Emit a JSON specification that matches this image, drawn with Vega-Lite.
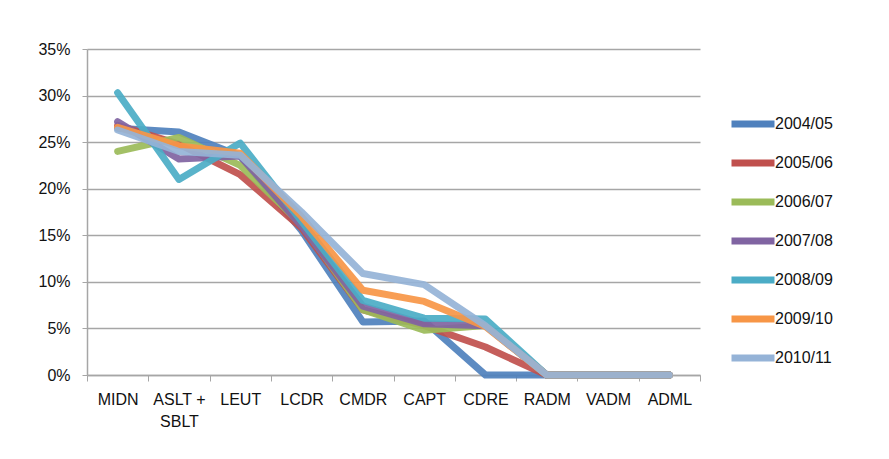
{
  "$schema": "https://vega.github.io/schema/vega-lite/v6.json",
  "width": 613,
  "height": 326,
  "autosize": "none",
  "padding": {"left": 87, "top": 49, "right": 189, "bottom": 84},
  "background": "white",
  "data": {
    "values": [
      {"rank": "MIDN", "year": "2004/05", "share": 0.265},
      {"rank": "ASLT + SBLT", "year": "2004/05", "share": 0.261},
      {"rank": "LEUT", "year": "2004/05", "share": 0.235},
      {"rank": "LCDR", "year": "2004/05", "share": 0.155},
      {"rank": "CMDR", "year": "2004/05", "share": 0.057},
      {"rank": "CAPT", "year": "2004/05", "share": 0.058},
      {"rank": "CDRE", "year": "2004/05", "share": 0.0},
      {"rank": "RADM", "year": "2004/05", "share": 0.0},
      {"rank": "VADM", "year": "2004/05", "share": 0.0},
      {"rank": "ADML", "year": "2004/05", "share": 0.0},

      {"rank": "MIDN", "year": "2005/06", "share": 0.268},
      {"rank": "ASLT + SBLT", "year": "2005/06", "share": 0.248},
      {"rank": "LEUT", "year": "2005/06", "share": 0.215},
      {"rank": "LCDR", "year": "2005/06", "share": 0.158},
      {"rank": "CMDR", "year": "2005/06", "share": 0.070},
      {"rank": "CAPT", "year": "2005/06", "share": 0.053},
      {"rank": "CDRE", "year": "2005/06", "share": 0.030},
      {"rank": "RADM", "year": "2005/06", "share": 0.0},
      {"rank": "VADM", "year": "2005/06", "share": 0.0},
      {"rank": "ADML", "year": "2005/06", "share": 0.0},

      {"rank": "MIDN", "year": "2006/07", "share": 0.240},
      {"rank": "ASLT + SBLT", "year": "2006/07", "share": 0.255},
      {"rank": "LEUT", "year": "2006/07", "share": 0.225},
      {"rank": "LCDR", "year": "2006/07", "share": 0.162},
      {"rank": "CMDR", "year": "2006/07", "share": 0.070},
      {"rank": "CAPT", "year": "2006/07", "share": 0.048},
      {"rank": "CDRE", "year": "2006/07", "share": 0.053},
      {"rank": "RADM", "year": "2006/07", "share": 0.0},
      {"rank": "VADM", "year": "2006/07", "share": 0.0},
      {"rank": "ADML", "year": "2006/07", "share": 0.0},

      {"rank": "MIDN", "year": "2007/08", "share": 0.272},
      {"rank": "ASLT + SBLT", "year": "2007/08", "share": 0.232},
      {"rank": "LEUT", "year": "2007/08", "share": 0.235},
      {"rank": "LCDR", "year": "2007/08", "share": 0.160},
      {"rank": "CMDR", "year": "2007/08", "share": 0.074},
      {"rank": "CAPT", "year": "2007/08", "share": 0.055},
      {"rank": "CDRE", "year": "2007/08", "share": 0.053},
      {"rank": "RADM", "year": "2007/08", "share": 0.0},
      {"rank": "VADM", "year": "2007/08", "share": 0.0},
      {"rank": "ADML", "year": "2007/08", "share": 0.0},

      {"rank": "MIDN", "year": "2008/09", "share": 0.303},
      {"rank": "ASLT + SBLT", "year": "2008/09", "share": 0.210},
      {"rank": "LEUT", "year": "2008/09", "share": 0.249},
      {"rank": "LCDR", "year": "2008/09", "share": 0.165},
      {"rank": "CMDR", "year": "2008/09", "share": 0.080},
      {"rank": "CAPT", "year": "2008/09", "share": 0.061},
      {"rank": "CDRE", "year": "2008/09", "share": 0.060},
      {"rank": "RADM", "year": "2008/09", "share": 0.0},
      {"rank": "VADM", "year": "2008/09", "share": 0.0},
      {"rank": "ADML", "year": "2008/09", "share": 0.0},

      {"rank": "MIDN", "year": "2009/10", "share": 0.266},
      {"rank": "ASLT + SBLT", "year": "2009/10", "share": 0.246},
      {"rank": "LEUT", "year": "2009/10", "share": 0.238},
      {"rank": "LCDR", "year": "2009/10", "share": 0.170},
      {"rank": "CMDR", "year": "2009/10", "share": 0.091},
      {"rank": "CAPT", "year": "2009/10", "share": 0.079},
      {"rank": "CDRE", "year": "2009/10", "share": 0.052},
      {"rank": "RADM", "year": "2009/10", "share": 0.0},
      {"rank": "VADM", "year": "2009/10", "share": 0.0},
      {"rank": "ADML", "year": "2009/10", "share": 0.0},

      {"rank": "MIDN", "year": "2010/11", "share": 0.263},
      {"rank": "ASLT + SBLT", "year": "2010/11", "share": 0.240},
      {"rank": "LEUT", "year": "2010/11", "share": 0.236},
      {"rank": "LCDR", "year": "2010/11", "share": 0.175},
      {"rank": "CMDR", "year": "2010/11", "share": 0.109},
      {"rank": "CAPT", "year": "2010/11", "share": 0.097},
      {"rank": "CDRE", "year": "2010/11", "share": 0.053},
      {"rank": "RADM", "year": "2010/11", "share": 0.0},
      {"rank": "VADM", "year": "2010/11", "share": 0.0},
      {"rank": "ADML", "year": "2010/11", "share": 0.0}
    ]
  },
  "mark": {"type": "line", "strokeWidth": 7, "strokeJoin": "round", "strokeCap": "round", "opacity": 0.92},
  "encoding": {
    "x": {
      "field": "rank",
      "type": "nominal",
      "sort": ["MIDN", "ASLT + SBLT", "LEUT", "LCDR", "CMDR", "CAPT", "CDRE", "RADM", "VADM", "ADML"],
      "bandPosition": 0.5,
      "scale": {"type": "band", "paddingInner": 0, "paddingOuter": 0},
      "axis": {
        "title": null,
        "labelAngle": 0,
        "tickBand": "extent",
        "tickSize": 6,
        "tickColor": "#A6A6A6",
        "domainColor": "#A6A6A6",
        "domainWidth": 1.5,
        "labelPadding": 10,
        "labelExpr": "datum.label == 'ASLT + SBLT' ? ['ASLT +', 'SBLT'] : datum.label",
        "labelLineHeight": 22
      }
    },
    "y": {
      "field": "share",
      "type": "quantitative",
      "scale": {"domain": [0, 0.35], "nice": false},
      "axis": {
        "title": null,
        "format": ".0%",
        "values": [0, 0.05, 0.1, 0.15, 0.2, 0.25, 0.3, 0.35],
        "tickSize": 5,
        "tickColor": "#A6A6A6",
        "domainColor": "#A6A6A6",
        "domainWidth": 1.5,
        "gridColor": "#A6A6A6",
        "gridWidth": 1.5,
        "labelPadding": 12
      }
    },
    "color": {
      "field": "year",
      "type": "nominal",
      "scale": {
        "domain": ["2004/05", "2005/06", "2006/07", "2007/08", "2008/09", "2009/10", "2010/11"],
        "range": ["#4F81BD", "#C0504D", "#9BBB59", "#8064A2", "#4BACC6", "#F79646", "#95B3D7"]
      },
      "legend": {
        "title": null,
        "orient": "none",
        "legendX": 641,
        "legendY": 50,
        "symbolType": "stroke",
        "symbolStrokeWidth": 7,
        "symbolSize": 1849,
        "rowPadding": 0,
        "labelOffset": -3,
        "symbolOpacity": 1
      }
    }
  },
  "config": {
    "font": "Liberation Sans",
    "view": {"stroke": null},
    "axis": {
      "labelFont": "Liberation Sans",
      "labelFontSize": 16,
      "labelColor": "#111111",
      "labelFontWeight": "normal"
    },
    "legend": {
      "labelFont": "Liberation Sans",
      "labelFontSize": 16,
      "labelColor": "#111111",
      "labelLimit": 200
    }
  }
}
